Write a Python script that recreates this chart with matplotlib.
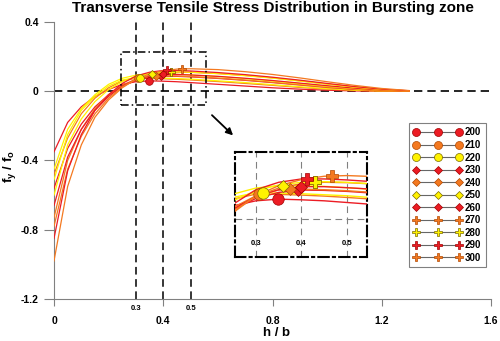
import matplotlib

matplotlib.use("Agg")

import matplotlib.pyplot as plt
from matplotlib.lines import Line2D
from matplotlib.patches import Rectangle

plt.rcParams["font.family"] = ["Liberation Sans", "DejaVu Sans"]
plt.rcParams["mathtext.fontset"] = "custom"
plt.rcParams["mathtext.rm"] = "Liberation Sans:bold"
plt.rcParams["mathtext.it"] = "Liberation Sans:bold"
plt.rcParams["mathtext.bf"] = "Liberation Sans:bold"

# datos
h_b = [0, 0.05, 0.1, 0.15, 0.2, 0.25, 0.3, 0.35, 0.4, 0.45, 0.5,
       0.6, 0.7, 0.8, 0.9, 1.0, 1.1, 1.2, 1.3]

series_names = ["200", "210", "220", "230", "240", "250",
                "260", "270", "280", "290", "300"]

fy_200 = [-0.35, -0.18, -0.09, -0.03, 0.01, 0.04, 0.055, 0.06, 0.058, 0.055, 0.05,
          0.04, 0.03, 0.02, 0.012, 0.006, 0.002, 0.0, 0.0]
fy_210 = [-0.48, -0.27, -0.13, -0.04, 0.02, 0.06, 0.075, 0.074, 0.072, 0.069, 0.065,
          0.056, 0.045, 0.034, 0.022, 0.012, 0.005, 0.001, 0.0]
fy_220 = [-0.51, -0.25, -0.11, -0.03, 0.03, 0.065, 0.079, 0.078, 0.076, 0.073, 0.07,
          0.06, 0.05, 0.038, 0.026, 0.015, 0.007, 0.002, 0.0]
fy_230 = [-0.56, -0.33, -0.19, -0.09, -0.02, 0.03, 0.062, 0.08, 0.087, 0.086, 0.083,
          0.074, 0.063, 0.05, 0.036, 0.022, 0.011, 0.004, 0.0]
fy_240 = [-0.73, -0.40, -0.22, -0.10, -0.02, 0.035, 0.07, 0.087, 0.09, 0.088, 0.085,
          0.076, 0.065, 0.052, 0.038, 0.024, 0.012, 0.004, 0.0]
fy_250 = [-0.45, -0.22, -0.10, -0.02, 0.04, 0.075, 0.093, 0.10, 0.10, 0.098, 0.094,
          0.085, 0.073, 0.059, 0.044, 0.029, 0.016, 0.006, 0.0]
fy_260 = [-0.66, -0.38, -0.22, -0.11, -0.03, 0.03, 0.068, 0.088, 0.097, 0.097, 0.094,
          0.086, 0.075, 0.062, 0.047, 0.032, 0.018, 0.007, 0.0]
fy_270 = [-0.78, -0.45, -0.26, -0.13, -0.04, 0.025, 0.068, 0.093, 0.106, 0.11, 0.109,
          0.102, 0.091, 0.077, 0.06, 0.042, 0.025, 0.011, 0.002]
fy_280 = [-0.60, -0.31, -0.16, -0.06, 0.01, 0.055, 0.085, 0.102, 0.11, 0.112, 0.11,
          0.102, 0.09, 0.076, 0.059, 0.041, 0.024, 0.01, 0.002]
fy_290 = [-0.85, -0.46, -0.25, -0.11, -0.02, 0.045, 0.088, 0.11, 0.12, 0.12, 0.117,
          0.108, 0.096, 0.081, 0.064, 0.045, 0.027, 0.012, 0.003]
fy_300 = [-0.98, -0.55, -0.31, -0.15, -0.05, 0.02, 0.07, 0.10, 0.118, 0.128, 0.13,
          0.125, 0.113, 0.097, 0.077, 0.055, 0.034, 0.016, 0.004]

# maximos marcados en cada curva
peak_x = [0.348, 0.307, 0.315, 0.392, 0.375, 0.36, 0.40, 0.43, 0.43, 0.412, 0.467]
peak_y = [0.06, 0.076, 0.079, 0.086, 0.09, 0.10, 0.097, 0.11, 0.112, 0.12, 0.13]

curves = [fy_200, fy_210, fy_220, fy_230, fy_240, fy_250,
          fy_260, fy_270, fy_280, fy_290, fy_300]

RED, ORANGE, YELLOW = "#ec1c24", "#f47920", "#fff200"
EDGES = {RED: "#a00000", ORANGE: "#b04800", YELLOW: "#7a6a00"}
colores = [RED, ORANGE, YELLOW, RED, ORANGE, YELLOW, RED, ORANGE, YELLOW, RED, ORANGE]
marcadores = ["o", "o", "o", "D", "D", "D", "D", "P", "P", "P", "P"]
tam_marcador = [5.5, 5.5, 5.5, 4.2, 4.2, 4.2, 4.2, 6, 6, 6, 6]

fig = plt.figure(figsize=(5, 3.41), dpi=100)
ax = fig.add_axes([0.108, 0.1232, 0.874, 0.8123])

for fy, c in zip(curves, colores):
    ax.plot(h_b, fy, color=c, linewidth=0.9, zorder=3)
for i in range(len(curves)):
    c = colores[i]
    ax.plot(peak_x[i], peak_y[i], linestyle="none", marker=marcadores[i],
            markersize=tam_marcador[i], markerfacecolor=c,
            markeredgecolor=EDGES[c], markeredgewidth=0.5, zorder=4)

for xv in [0.3, 0.4, 0.5]:
    ax.axvline(xv, color="black", linestyle=(0, (5, 3)), linewidth=1.1, zorder=2)
ax.axhline(0, color="black", linestyle=(0, (5, 3)), linewidth=1.2, zorder=2)

ax.add_patch(Rectangle((0.245, -0.08), 0.312, 0.305, fill=False,
                       linestyle=(0, (5, 2, 1, 2)), linewidth=1.1,
                       edgecolor="black", zorder=5))
ax.annotate("", xy=(0.663, -0.266), xytext=(0.571, -0.127),
            arrowprops=dict(arrowstyle="-|>", color="black", lw=1.3,
                            mutation_scale=10))

ax.set_xlim(0, 1.6)
ax.set_ylim(-1.2, 0.4)
ax.set_xticks([0, 0.4, 0.8, 1.2, 1.6])
ax.set_xticklabels(["0", "0.4", "0.8", "1.2", "1.6"])
ax.set_yticks([0.4, 0, -0.4, -0.8, -1.2])
ax.set_yticklabels(["0.4", "0", "-0.4", "-0.8", "-1.2"])
ax.tick_params(axis="x", length=5, width=0.8, color="gray", pad=7, labelsize=7.5)
ax.tick_params(axis="y", length=7, width=0.8, color="gray", pad=4, labelsize=7.5)
for lab in ax.get_xticklabels() + ax.get_yticklabels():
    lab.set_fontweight("bold")
for s in ["top", "right"]:
    ax.spines[s].set_visible(False)
for s in ["left", "bottom"]:
    ax.spines[s].set_color("gray")
    ax.spines[s].set_linewidth(0.8)

for xv in [0.3, 0.5]:
    ax.annotate(f"{xv:.1f}", xy=(xv, 0), xycoords=("data", "axes fraction"),
                xytext=(0, -4), textcoords="offset points", ha="center", va="top",
                fontsize=5.5, fontweight="bold")

ax.set_xlabel("h / b", fontsize=9.5, fontweight="bold")
ax.xaxis.set_label_coords(0.51, -0.102)
ax.set_ylabel(r"$f_y\ /\ f_o$", fontsize=9.5)
ax.yaxis.set_label_coords(-0.083, 0.48)
ax.set_title("Transverse Tensile Stress Distribution in Bursting zone",
             fontsize=11, fontweight="bold", pad=7)

# recuadro ampliado
axi = fig.add_axes([0.47, 0.2463, 0.264, 0.3079])
for fy, c in zip(curves, colores):
    axi.plot(h_b, fy, color=c, linewidth=1.0, zorder=3)
for i in range(len(curves)):
    c = colores[i]
    axi.plot(peak_x[i], peak_y[i], linestyle="none", marker=marcadores[i],
             markersize=tam_marcador[i] * 1.5, markerfacecolor=c,
             markeredgecolor=EDGES[c], markeredgewidth=0.5, zorder=4)
axi.set_xlim(0.254, 0.544)
axi.set_ylim(-0.112, 0.2)
axi.set_xticks([0.3, 0.4, 0.5])
axi.set_xticklabels(["0.3", "0.4", "0.5"])
axi.set_yticks([0])
axi.set_yticklabels([])
axi.grid(True, color="gray", linestyle=(0, (6, 4)), linewidth=0.8)
axi.tick_params(axis="x", length=0, pad=-12, labelsize=5.5)
axi.tick_params(axis="y", length=0)
for lab in axi.get_xticklabels():
    lab.set_fontweight("bold")
for s in axi.spines.values():
    s.set_linestyle((0, (5, 2, 1, 2)))
    s.set_linewidth(1.5)

handles = []
for i in range(len(curves)):
    c = colores[i]
    handles.append(Line2D([], [], color="#666666", linewidth=0.8,
                          marker=marcadores[i], markersize=tam_marcador[i] * 1.05,
                          markerfacecolor=c, markeredgecolor=EDGES[c],
                          markeredgewidth=0.5))
leg = fig.legend(handles, series_names, loc="upper left",
                 bbox_to_anchor=(0.818, 0.639), bbox_transform=fig.transFigure,
                 borderaxespad=0, numpoints=3, handlelength=5.0,
                 handletextpad=0.3, labelspacing=0.26, borderpad=0.45,
                 fancybox=False, edgecolor="gray", framealpha=1,
                 prop={"size": 7, "weight": "bold"})
leg.get_frame().set_linewidth(0.8)

fig.savefig("out.png", dpi=100)
